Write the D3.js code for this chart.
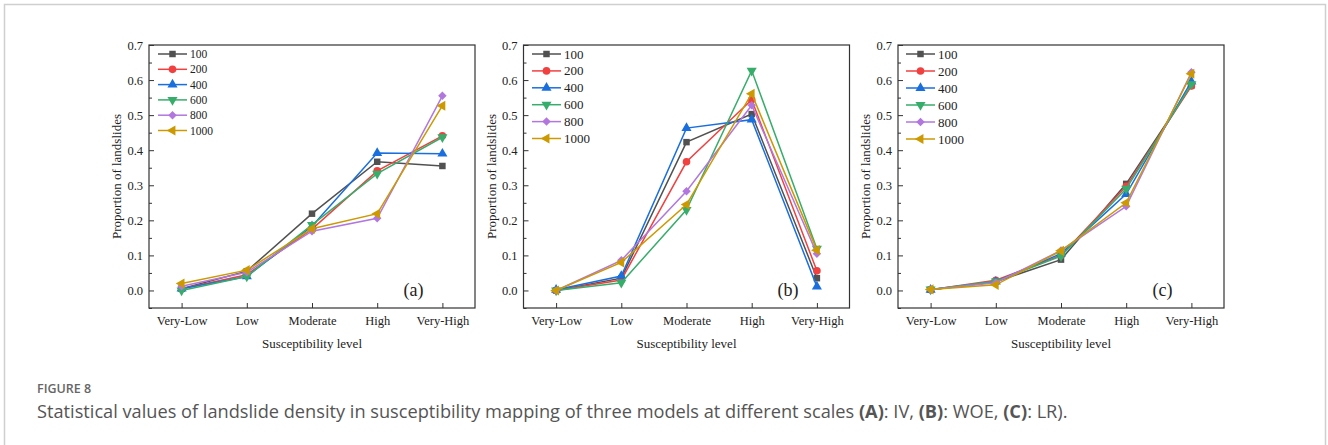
<!DOCTYPE html>
<html>
<head>
<meta charset="utf-8">
<script src="https://cdn.jsdelivr.net/npm/d3@7"></script>
<style>
  body { margin: 0; background: #fff; }
  svg text { font-family: "Times New Roman", "Liberation Serif", serif; fill: #222; }
  .caption { font-family: "Open Sans", "Noto Sans", sans-serif; }
</style>
</head>
<body>
<script>
'use strict';

// categories on x axis
const levels = ["Very-Low", "Low", "Moderate", "High", "Very-High"];
// scale series (legend labels)
const scales = ["100", "200", "400", "600", "800", "1000"];
const yTicks = [0.0, 0.1, 0.2, 0.3, 0.4, 0.5, 0.6, 0.7];

// (a) IV model
const ivValues = [
  [0.005, 0.055, 0.219, 0.367, 0.355],
  [0.005, 0.045, 0.175, 0.341, 0.441],
  [0.005, 0.040, 0.183, 0.392, 0.390],
  [0.000, 0.040, 0.187, 0.333, 0.437],
  [0.012, 0.052, 0.169, 0.206, 0.555],
  [0.020, 0.058, 0.176, 0.219, 0.527]
];
// (b) WOE model
const woeValues = [
  [0.000, 0.035, 0.423, 0.503, 0.035],
  [0.000, 0.030, 0.367, 0.544, 0.056],
  [0.002, 0.041, 0.463, 0.487, 0.011],
  [0.000, 0.022, 0.230, 0.627, 0.119],
  [0.000, 0.086, 0.283, 0.528, 0.105],
  [0.000, 0.080, 0.245, 0.561, 0.115]
];
// (c) LR model
const lrValues = [
  [0.002, 0.025, 0.088, 0.304, 0.585],
  [0.002, 0.029, 0.100, 0.297, 0.583],
  [0.002, 0.025, 0.105, 0.275, 0.596],
  [0.003, 0.026, 0.098, 0.290, 0.588],
  [0.003, 0.022, 0.114, 0.240, 0.622],
  [0.003, 0.016, 0.113, 0.250, 0.618]
];

(function() {

const colors = ["#515151", "#F14040", "#1A6FDF", "#37AD6B", "#B177DE", "#CC9900"];
// marker shape + rotation for each series
const markers = [
  {type: d3.symbolSquare, rot: 0, size: 42},
  {type: d3.symbolCircle, rot: 0, size: 46},
  {type: d3.symbolTriangle, rot: 0, size: 44},
  {type: d3.symbolTriangle, rot: 180, size: 44},
  {type: d3.symbolSquare, rot: 45, size: 36},
  {type: d3.symbolTriangle, rot: -90, size: 44}
];

const panels = [
  {data: ivValues, label: "(a)", left: 149, legendGap: 15.3, legendSize: 11.5, legendX: 158},
  {data: woeValues, label: "(b)", left: 523.5, legendGap: 16.9, legendSize: 13, legendX: 532},
  {data: lrValues, label: "(c)", left: 898, legendGap: 17, legendSize: 13, legendX: 906}
];

const W = 1328, H = 445;
const plotW = 326, plotTop = 45, plotBottom = 308;

const svg = d3.select("body").append("svg")
  .attr("width", W)
  .attr("height", H);

// card frame
svg.append("path")
  .attr("d", "M4.5," + H + " V4.5 H1325.5 V" + H)
  .attr("fill", "none")
  .attr("stroke", "#cfcfcf")
  .attr("stroke-width", 1.5);

const yScale = d3.scaleLinear().domain([-0.05, 0.7]).range([plotBottom, plotTop]);

panels.forEach(function(p) {
  const g = svg.append("g");
  const x = d3.scalePoint().domain(levels).range([p.left, p.left + plotW]).padding(0.5);

  // frame
  g.append("rect")
    .attr("x", p.left).attr("y", plotTop)
    .attr("width", plotW).attr("height", plotBottom - plotTop)
    .attr("fill", "none").attr("stroke", "#333").attr("stroke-width", 1.2);

  // y axis, ticks inside
  const yAxis = g.append("g")
    .attr("transform", "translate(" + p.left + ",0)")
    .call(d3.axisLeft(yScale).tickValues(yTicks).tickFormat(d3.format(".1f")).tickSize(-5).tickPadding(6));
  yAxis.select(".domain").remove();
  yAxis.selectAll("text").style("font-size", "12.5px");
  yAxis.selectAll("line").attr("stroke", "#333");

  // minor y ticks
  const minor = yTicks.map(function(t) { return t - 0.05; });
  const yMinor = g.append("g")
    .attr("transform", "translate(" + p.left + ",0)")
    .call(d3.axisLeft(yScale).tickValues(minor).tickFormat("").tickSize(-3));
  yMinor.select(".domain").remove();
  yMinor.selectAll("line").attr("stroke", "#333");

  // x axis, ticks inside
  const xAxis = g.append("g")
    .attr("transform", "translate(0," + plotBottom + ")")
    .call(d3.axisBottom(x).tickSize(-5).tickPadding(8));
  xAxis.select(".domain").remove();
  xAxis.selectAll("text").style("font-size", "12.5px");
  xAxis.selectAll("line").attr("stroke", "#333");

  // axis titles
  g.append("text")
    .attr("x", p.left + plotW / 2).attr("y", 348)
    .attr("text-anchor", "middle")
    .style("font-size", "13px")
    .text("Susceptibility level");

  g.append("text")
    .attr("transform", "translate(" + (p.left - 28) + "," + ((plotTop + plotBottom) / 2) + ")rotate(-90)")
    .attr("text-anchor", "middle")
    .style("font-size", "13px")
    .text("Proportion of landslides");

  // panel letter
  g.append("text")
    .attr("x", x("Very-High") - 29).attr("y", 296)
    .attr("text-anchor", "middle")
    .style("font-size", "18px")
    .text(p.label);

  // series lines and markers
  const line = d3.line()
    .x(function(d, i) { return x(levels[i]); })
    .y(function(d) { return yScale(d); });

  p.data.forEach(function(vals, s) {
    g.append("path")
      .attr("d", line(vals))
      .attr("fill", "none")
      .attr("stroke", colors[s])
      .attr("stroke-width", 1.5);

    g.selectAll(".m" + s)
      .data(vals)
      .enter()
      .append("path")
      .attr("d", d3.symbol().type(markers[s].type).size(markers[s].size))
      .attr("transform", function(d, i) {
        return "translate(" + x(levels[i]) + "," + yScale(d) + ")rotate(" + markers[s].rot + ")";
      })
      .attr("fill", colors[s]);
  });

  // legend
  const legend = g.append("g");
  scales.forEach(function(name, s) {
    const ly = 54 + s * p.legendGap;
    legend.append("line")
      .attr("x1", p.legendX).attr("x2", p.legendX + 29)
      .attr("y1", ly).attr("y2", ly)
      .attr("stroke", colors[s]).attr("stroke-width", 1.5);
    legend.append("path")
      .attr("d", d3.symbol().type(markers[s].type).size(markers[s].size))
      .attr("transform", "translate(" + (p.legendX + 14.5) + "," + ly + ")rotate(" + markers[s].rot + ")")
      .attr("fill", colors[s]);
    legend.append("text")
      .attr("x", p.legendX + 32).attr("y", ly)
      .attr("dy", "0.35em")
      .style("font-size", p.legendSize + "px")
      .text(name);
  });
});

// caption
svg.append("text")
  .attr("class", "caption")
  .attr("x", 37).attr("y", 393)
  .style("font-size", "12.5px")
  .style("font-weight", "600")
  .style("fill", "#666")
  .text("FIGURE 8");

const cap = svg.append("text")
  .attr("class", "caption")
  .attr("x", 37).attr("y", 418)
  .style("font-size", "18.2px")
  .style("fill", "#555");
const parts = [
  ["Statistical values of landslide density in susceptibility mapping of three models at different scales ", false],
  ["(A)", true], [": IV, ", false], ["(B)", true], [": WOE, ", false], ["(C)", true], [": LR).", false]
];
parts.forEach(function(pt) {
  cap.append("tspan")
    .style("font-weight", pt[1] ? "700" : "400")
    .text(pt[0]);
});

})();
</script>
</body>
</html>
